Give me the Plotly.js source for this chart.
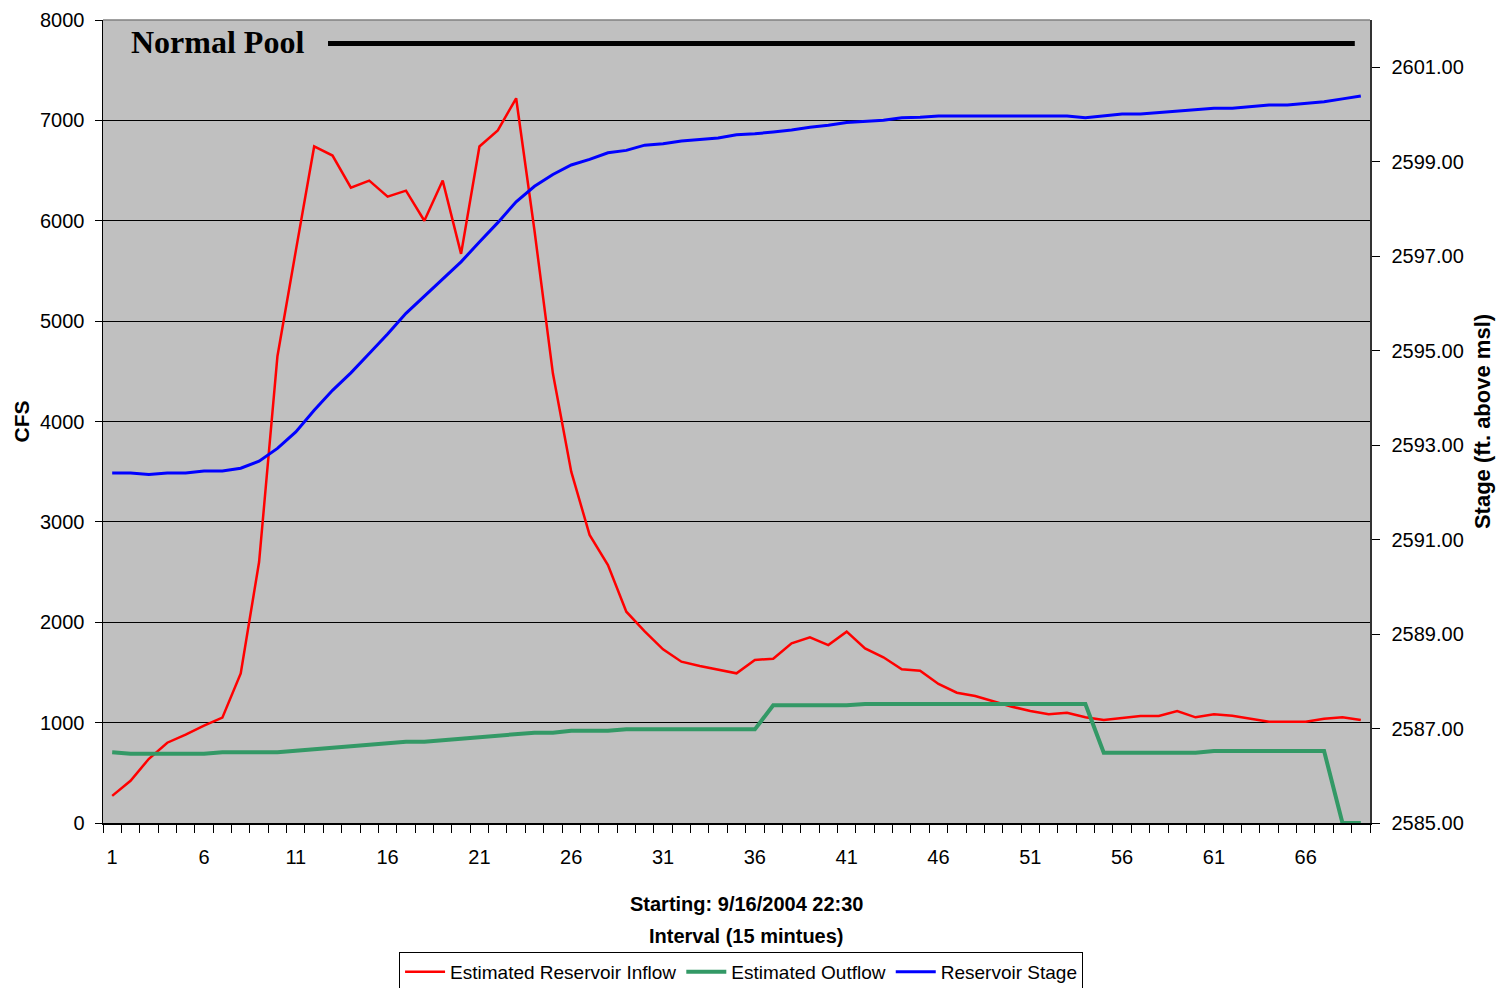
<!DOCTYPE html>
<html>
<head>
<meta charset="utf-8">
<script src="https://cdn.plot.ly/plotly-3.0.1.min.js"></script>
<style>html,body{margin:0;padding:0;background:#fff;}#chart{width:1499px;height:988px;}</style>
</head>
<body>
<div id="chart"></div>
<script>
// Interval index (15-minute steps starting 9/16/2004 22:30)
const intervals = Array.from({length: 69}, (_, k) => k + 1);

// Estimated Reservoir Inflow (CFS)
const inflow = [270, 420, 640, 800, 880, 970, 1050, 1490, 2600, 4650,
  5700, 6740, 6650, 6330, 6400, 6240, 6300, 6000, 6400, 5670,
  6740, 6900, 7220, 5900, 4480, 3500, 2870, 2570, 2105, 1910,
  1730, 1607, 1564, 1524, 1491, 1624, 1637, 1790, 1850, 1773,
  1906, 1740, 1651, 1531, 1518, 1385, 1298, 1265, 1209, 1159,
  1116, 1083, 1099, 1053, 1026, 1043, 1066, 1066, 1116, 1053,
  1083, 1069, 1036, 1009, 1009, 1009, 1039, 1053, 1026];

// Estimated Outflow (CFS)
const outflow = [704, 690, 690, 690, 690, 690, 705, 705, 705, 705,
  720, 735, 750, 765, 780, 795, 810, 810, 825, 840,
  855, 870, 885, 900, 900, 920, 920, 920, 933, 933,
  933, 933, 933, 933, 933, 933, 1172, 1172, 1172, 1172,
  1172, 1185, 1185, 1185, 1185, 1185, 1185, 1185, 1185, 1185,
  1185, 1185, 1185, 1185, 700, 700, 700, 700, 700, 700,
  717, 717, 717, 717, 717, 717, 717, 0, 0];

// Reservoir Stage (ft. above msl)
const stage = [2592.41, 2592.41, 2592.38, 2592.41, 2592.41, 2592.45, 2592.45, 2592.51, 2592.66, 2592.93,
  2593.28, 2593.74, 2594.16, 2594.53, 2594.94, 2595.35, 2595.79, 2596.15, 2596.53, 2596.88,
  2597.30, 2597.71, 2598.15, 2598.48, 2598.73, 2598.93, 2599.05, 2599.19, 2599.24, 2599.35,
  2599.38, 2599.44, 2599.47, 2599.50, 2599.57, 2599.59, 2599.63, 2599.67, 2599.73, 2599.77,
  2599.83, 2599.86, 2599.88, 2599.93, 2599.94, 2599.97, 2599.97, 2599.97, 2599.97, 2599.97,
  2599.97, 2599.97, 2599.97, 2599.93, 2599.97, 2600.01, 2600.01, 2600.04, 2600.08, 2600.11,
  2600.13, 2600.13, 2600.17, 2600.20, 2600.20, 2600.24, 2600.27, 2600.33, 2600.39];

const normalPoolStage = 2601.5;
const xTickVals = [1, 6, 11, 16, 21, 26, 31, 36, 41, 46, 51, 56, 61, 66];
const leftTicks = [0, 1000, 2000, 3000, 4000, 5000, 6000, 7000, 8000];
const rightTicks = [2585, 2587, 2589, 2591, 2593, 2595, 2597, 2599, 2601];
const xTitleLines = ['Starting: 9/16/2004 22:30', 'Interval (15 mintues)'];

const sansFont = 'Liberation Sans, Arial, sans-serif';

const traces = [
  {x: intervals, y: inflow, name: 'Estimated Reservoir Inflow', type: 'scatter', mode: 'lines',
   line: {color: '#ff0000', width: 2.5}, yaxis: 'y'},
  {x: intervals, y: outflow, name: 'Estimated Outflow', type: 'scatter', mode: 'lines',
   line: {color: '#339966', width: 4}, yaxis: 'y'},
  {x: intervals, y: stage, name: 'Reservoir Stage', type: 'scatter', mode: 'lines',
   line: {color: '#0000ff', width: 3}, yaxis: 'y2'}
];

const layout = {
  width: 1499, height: 988,
  margin: {l: 103, r: 129, t: 20, b: 165, autoexpand: false},
  paper_bgcolor: '#ffffff',
  plot_bgcolor: '#c0c0c0',
  showlegend: true,
  font: {family: sansFont, size: 20, color: '#000'},
  xaxis: {
    range: [0.5, 69.5], automargin: false,
    tickmode: 'array', tickvals: xTickVals, ticktext: xTickVals.map(String),
    ticks: 'outside', ticklen: 8, tickcolor: 'rgba(0,0,0,0)',
    ticklabelstandoff: 7,
    minor: {ticks: 'outside', tick0: 0.5, dtick: 1, ticklen: 8, tickcolor: '#000', tickwidth: 1, showgrid: false},
    showgrid: false, zeroline: false,
    showline: true, linecolor: '#000', linewidth: 1.5,
    tickfont: {family: sansFont, size: 20, color: '#000'}
  },
  yaxis: {
    range: [0, 8000], automargin: false,
    tickmode: 'array', tickvals: leftTicks,
    ticks: 'outside', ticklen: 7, tickcolor: '#000',
    ticklabelstandoff: 6,
    showgrid: true, gridcolor: '#000', gridwidth: 1,
    zeroline: false,
    showline: true, linecolor: '#000', linewidth: 1.5, mirror: true,
    tickfont: {family: sansFont, size: 20, color: '#000'},
    title: {text: 'CFS', standoff: 4,
            font: {family: sansFont, size: 21, color: '#000', weight: 'bold'}}
  },
  yaxis2: {
    overlaying: 'y', side: 'right', automargin: false,
    range: [2585, 2602],
    tickmode: 'array', tickvals: rightTicks, ticktext: rightTicks.map(v => v.toFixed(2)),
    ticks: 'outside', ticklen: 8, tickcolor: '#000',
    ticklabelstandoff: 8,
    showgrid: false, zeroline: false,
    showline: true, linecolor: '#333', linewidth: 1.5,
    tickfont: {family: sansFont, size: 20, color: '#000'},
    title: {text: 'Stage (ft. above msl)', standoff: 12,
            font: {family: sansFont, size: 22, color: '#000', weight: 'bold'}}
  },
  legend: {
    orientation: 'h', x: 0.5036, xanchor: 'center', y: -0.1606, yanchor: 'top',
    bgcolor: '#ffffff', bordercolor: '#000', borderwidth: 1,
    font: {family: sansFont, size: 19, color: '#000'},
    itemwidth: 40, tracegroupgap: 0
  },
  shapes: [
    {type: 'line', xref: 'paper', yref: 'paper', x0: 0, x1: 1, y0: 1, y1: 1,
     line: {color: '#808080', width: 1.5}},
    {type: 'line', xref: 'paper', yref: 'y2', x0: 0.1776, x1: 0.988,
     y0: normalPoolStage, y1: normalPoolStage, line: {color: '#000', width: 5}}
  ],
  annotations: [
    {text: '<b>Normal Pool</b>', xref: 'paper', yref: 'paper', x: 0.0205, y: 0.9726,
     xanchor: 'left', yanchor: 'middle', showarrow: false,
     font: {family: 'Liberation Serif, Times New Roman, serif', size: 32, color: '#000'}},
    {text: '<b>' + xTitleLines[0] + '</b>', xref: 'paper', yref: 'paper', x: 0.5075, y: -0.1009,
     xanchor: 'center', yanchor: 'middle', showarrow: false,
     font: {family: sansFont, size: 20, color: '#000'}},
    {text: '<b>' + xTitleLines[1] + '</b>', xref: 'paper', yref: 'paper', x: 0.5075, y: -0.1407,
     xanchor: 'center', yanchor: 'middle', showarrow: false,
     font: {family: sansFont, size: 20, color: '#000'}}
  ]
};

Plotly.newPlot('chart', traces, layout, {staticPlot: true, displayModeBar: false});
</script>
</body>
</html>
